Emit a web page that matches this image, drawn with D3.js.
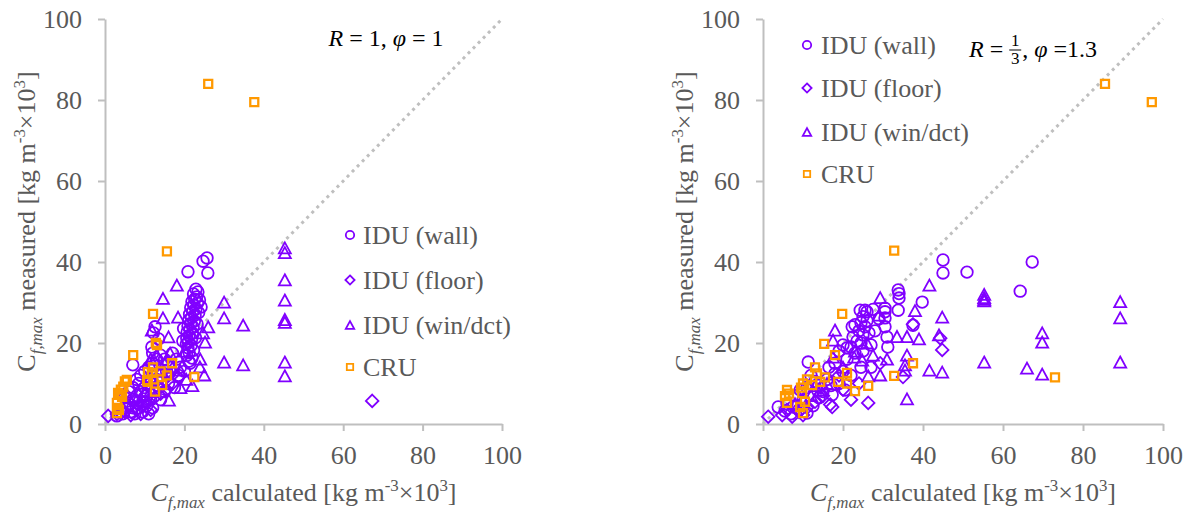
<!DOCTYPE html>
<html>
<head>
<meta charset="utf-8">
<script src="https://cdn.jsdelivr.net/npm/d3@7"></script>
<style>
  body { margin: 0; background: #fff; }
  svg { display: block; }
  text { font-family: "Liberation Serif", "Times New Roman", serif; }
</style>
</head>
<body>
<svg id="chart" width="1190" height="512"></svg>
<script>
// ---- data: [calculated, measured] pairs, kg m^-3 x 10^3 ----
const axisTicks = [0, 20, 40, 60, 80, 100];
const seriesNames = ["IDU (wall)", "IDU (floor)", "IDU (win/dct)", "CRU"];

// panel 1: R = 1, phi = 1
const wallLeft = [
  [25.7,41],[24.7,40.2],[25.9,37.3],[20.9,37.6],
  [22.9,33.3],[23.4,32.6],[22.3,32.1],[23.1,31.4],[22.6,30.8],[21.9,30.2],[23.3,29.9],[22.4,29.3],
  [21.6,28.7],[22.9,28.4],[22.1,27.8],[21.3,27.1],[22.7,26.9],[21.8,26.3],[21.1,25.7],[22.5,25.4],
  [21.6,24.8],[20.9,24.2],[22.2,23.9],[21.4,23.3],[20.7,22.7],[22,22.4],[21.2,21.8],[20.6,21.2],
  [21.8,20.9],[21,20.3],[20.5,19.7],[21.7,19.4],[20.9,18.8],[22.3,18.2],[21.2,17.6],[20.6,16.9],
  [21.9,16.3],[21.1,15.5],[23.8,30.6],[24.2,28.9],[23.6,27.5],[23.2,24.7],[22.8,21.3],[19.8,23.6],
  [19.6,20.5],
  [12.6,24],[12.2,22.5],[11.8,19],[13.5,21],[12,17.5],[7,14.6],[8,11],[9,12],[10,13],[11,14],
  [12,15],[13,16],[14,17],[15,16],[16,15],[17,17.5],[18,16],[19,14],[21.4,15],[20,13],[18.5,12],
  [17,12.5],[15.5,13],[14,12],[13,11],[11.5,10],[10,9],[9,8],[8,7],[7,6],[6,5],[5,4],[4,3],
  [6.5,3],[7.5,2.5],[8.5,4],[9.5,5.5],[10.5,7],[11.5,6],[12.5,8],[13.5,9],[6,8],[5,6.5],[7,9],
  [8.5,10],[9.5,3],[10.5,4.5],[16,10],[17.5,9],[15,8],[14,6],[12,4],[3,2],[4.5,2.5],[7,4],[11,2.5]
];
const floorLeft = [
  [0.8,2],[67.3,5.7],[3,2.5],[5,3],[6.5,2.2],[8,3.5],[9.5,4.5],[11,5.5],[12.5,6.5],[14,7.5],
  [15.5,8.5],[17,10],[18.5,11.5],[16,12],[13,9.5],[10,7],[7.5,5.5],[6,4.5],[9,2.5],[11.5,3.5]
];
const winLeft = [
  [45.3,43.5],[45.3,42.3],[45.3,35.6],[45.3,30.6],[45.3,25.8],[45.3,25.1],[45.3,15.3],[45.3,11.9],
  [30,30.1],[30,26.2],[34.8,24.4],[30,15.3],[34.8,14.6],[18.1,34.3],[14.6,31],[14.6,26.2],
  [18.4,26.4],[24.7,22.5],[16,21.5],[25.2,20.2],[11.8,23.2],[23.9,14.1],[25,12.1],[16.1,5.9],
  [16.4,17.5],[18.9,13.3],[20,18],[17,14],[14,13],[12,11],[10,8],[8,6],[20.5,11],[22,9.5],
  [19,9],[13,17],[11.5,16],[15,15],[24,16],[26,24]
];
const cruLeft = [
  [26,84],[37.6,79.5],[15.6,42.6],[12.1,27.2],[7.1,17],[12.8,20],[16.9,15],[22.5,11.6],
  [12.1,14],[15.6,12],[14.4,9.6],[12.6,8],[10.8,12.8],[10.6,10.8],[5.5,10.9],[4.6,9.2],
  [3.3,7.7],[3,5.2],[3,2.7],[4.3,6.7],[5,10.5],[3.8,7.2],[3.2,4],[11.8,12.6],[13.1,19.5],
  [10.8,10.4],[12.2,11],[14,13],[4,8.5],[3.5,3.5]
];

// panel 2: R = 1/3, phi = 1.3
const wallRight = [
  [67.3,40],[64.3,32.8],[51,37.5],[45,40.5],[45,37.3],[39.8,30.1],[33.8,33.1],[34,32.2],[34,31.1],
  [33.8,28.1],[30.5,28.6],[30.5,27.7],[30.5,26.2],[30.5,24],[31,21.5],[31.2,19],[37.5,24.4],
  [26,27.7],[25.5,28.1],[24.3,28.1],[25,26.5],[26,25.5],[24.5,25],[25.5,24],[23,24.5],[22.3,24],
  [24,23],[25,22],[26.5,22.5],[22.5,21.5],[23.5,20.5],[24.5,20],[21,18.8],[20,19.5],[22,19],
  [19,18],[23,17.5],[25,18],[27,19.5],[28,23],[29,26],[27.5,28.3],[20.5,8.4],[17.3,7.2],[15,8],
  [11.3,15.3],[9.3,8.4],[7.5,4.2],[11,2.7],[3.8,4.2],[12,12],[13,10.5],[14,9.5],[16,11],
  [18,12.5],[20,13],[19,10],[10,6],[8,7],[6,5],[9,3.5],[12.5,4.5],[14,6.5],[16.5,14],[22,12],
  [24.5,14],[21,16],[18,15],[11,9],[7,2.5],[5.5,3.2],[27,14],[17,9.5]
];
const floorRight = [
  [1.3,1.8],[4.8,2.2],[7.3,1.8],[26.3,5.2],[17.3,4.2],[16.8,4.8],[29.3,15],[35,11.6],[44.3,21.2],
  [44.8,18.3],[37.5,24.6],[9,3],[11,4],[13,5.5],[15,7],[20,8.5],[24,10],[6,3.5],[10,2.2],[22,6],
  [14.5,9],[19,12]
];
const winRight = [
  [89.3,30.2],[89.3,26.2],[89.3,15.3],[69.8,22.5],[69.8,20.2],[69.8,12.3],[66,13.8],[55.3,15.3],
  [55.3,30.4],[55.3,31.2],[55.3,32],[55.3,30.8],[44.8,26.4],[44.8,12.8],[41.6,34.3],[44,22],
  [41.6,13.3],[36,17],[35.5,13.3],[29.3,31.2],[29,26.9],[33.5,21.6],[36,21.6],[36,6.2],[35.5,14.6],
  [29.3,12.1],[26.3,11.9],[24.8,15.8],[22.8,16.5],[18,23.2],[17.5,20.7],[17.5,16.5],[14.3,8.4],
  [12,7],[10,6],[8,5],[16,10],[20,14],[23,18],[26,20],[27.5,17],[31,16],[39,21],[38,28],[13,9.5]
];
const cruRight = [
  [85.5,84],[97.2,79.5],[32.8,42.8],[19.8,27.2],[15.3,19.8],[18,17],[13,14],[32.8,11.9],[37.5,15],
  [26.3,9.4],[23,8.1],[21,12.6],[18.8,10.4],[14.3,10.4],[12.3,9.6],[10,10],[6,8.4],[5.5,6.9],
  [6,5.2],[9.3,4.2],[10,2.7],[9.8,7.6],[73,11.5],[13.5,12.5],[11,11],[21,10],[15.5,11.5],
  [6.5,7.5],[9.5,9],[10.5,5.5]
];

// ---- layout ----
const PURPLE = "#8000ff", ORANGE = "#ff9900", GRID = "#bfbfbf", LABEL = "#595959";
const FONT = 26;
const yRange = [424, 19];

const panels = [
  { xRange: [105, 502], series: [wallLeft, floorLeft, winLeft, cruLeft],
    legend: { mx: 350, tx: 363, ys: [235, 280, 325, 367] }, titleX: 35 },
  { xRange: [763, 1163], series: [wallRight, floorRight, winRight, cruRight],
    legend: { mx: 807, tx: 821, ys: [45, 88, 132, 174] }, titleX: 693 }
];

// marker shapes, centred on the origin
const shapes = [
  s => `M${s},0A${s},${s} 0 1,1 ${-s},0A${s},${s} 0 1,1 ${s},0Z`,
  s => `M0,${-s}L${s},0L0,${s}L${-s},0Z`,
  s => `M0,${-s * 0.92}L${s},${s * 0.92}L${-s},${s * 0.92}Z`,
  s => `M${-s},${-s}H${s}V${s}H${-s}Z`
];
const markerSize = [5.8, 6.3, 6, 4];
const legendSize = [4.2, 4.6, 4.2, 3.2];
const colors = [PURPLE, PURPLE, PURPLE, ORANGE];
const strokeW = [1.8, 1.8, 1.8, 2.3];

const svg = d3.select("#chart");

// writes a run of text pieces, each optionally italic / subscript / superscript
function richText(sel, parts, size) {
  let shift = 0;
  parts.forEach(p => {
    const t = sel.append("tspan").text(p.t);
    let target = 0, fs = size;
    if (p.sub) { target = size * 0.25; fs = size * 0.65; }
    if (p.sup) { target = -size * 0.38; fs = size * 0.65; }
    t.attr("dy", target - shift).attr("font-size", fs);
    if (p.italic) t.attr("font-style", "italic");
    shift = target;
  });
}

panels.forEach(panel => {
  const x = d3.scaleLinear().domain([0, 100]).range(panel.xRange);
  const y = d3.scaleLinear().domain([0, 100]).range(yRange);
  const g = svg.append("g");

  // axes
  const xAxis = g.append("g").attr("transform", `translate(0,${yRange[0]})`)
    .call(d3.axisBottom(x).tickValues(axisTicks).tickSize(7).tickSizeOuter(0).tickPadding(15));
  const yAxis = g.append("g").attr("transform", `translate(${panel.xRange[0]},0)`)
    .call(d3.axisLeft(y).tickValues(axisTicks).tickSize(7).tickSizeOuter(0).tickPadding(16));
  [xAxis, yAxis].forEach(a => {
    a.select(".domain").attr("stroke", GRID).attr("stroke-width", 2);
    a.selectAll(".tick line").attr("stroke", GRID).attr("stroke-width", 2);
    a.selectAll(".tick text").attr("fill", LABEL).attr("font-size", FONT)
      .attr("font-family", "Liberation Serif, Times New Roman, serif");
  });

  // 1:1 reference line
  g.append("line")
    .attr("x1", x(0)).attr("y1", y(0)).attr("x2", x(100)).attr("y2", y(100))
    .attr("stroke", GRID).attr("stroke-width", 3).attr("stroke-dasharray", "3 4.2");

  // markers
  panel.series.forEach((pts, i) => {
    g.append("g").selectAll("path").data(pts).join("path")
      .attr("transform", d => `translate(${x(d[0])},${y(d[1])})`)
      .attr("d", shapes[i](markerSize[i]))
      .attr("fill", "none").attr("stroke", colors[i]).attr("stroke-width", strokeW[i]);
  });

  // legend
  seriesNames.forEach((name, i) => {
    const ly = panel.legend.ys[i];
    g.append("path").attr("transform", `translate(${panel.legend.mx},${ly})`)
      .attr("d", shapes[i](legendSize[i]))
      .attr("fill", "none").attr("stroke", colors[i]).attr("stroke-width", 1.8);
    g.append("text").attr("x", panel.legend.tx).attr("y", ly).attr("dy", "0.34em")
      .attr("fill", LABEL).attr("font-size", FONT).text(name);
  });

  // axis titles
  const xt = g.append("text").attr("x", (panel.xRange[0] + panel.xRange[1]) / 2).attr("y", 501)
    .attr("text-anchor", "middle").attr("fill", LABEL).attr("font-size", FONT);
  richText(xt, [
    { t: "C", italic: true }, { t: "f,max", italic: true, sub: true },
    { t: " calculated [kg m" }, { t: "-3", sup: true }, { t: "×10" }, { t: "3", sup: true }, { t: "]" }
  ], FONT);

  const yt = g.append("text")
    .attr("transform", `translate(${panel.titleX},${(yRange[0] + yRange[1]) / 2}) rotate(-90)`)
    .attr("text-anchor", "middle").attr("fill", LABEL).attr("font-size", FONT);
  richText(yt, [
    { t: "C" }, { t: "f,max", italic: true, sub: true },
    { t: " measured [kg m" }, { t: "-3", sup: true }, { t: "×10" }, { t: "3", sup: true }, { t: "]" }
  ], FONT);
});

// parameter notes
const note1 = svg.append("text").attr("x", 386).attr("y", 46).attr("text-anchor", "middle")
  .attr("font-size", 24).attr("fill", "#000");
richText(note1, [{ t: "R", italic: true }, { t: " = 1, " }, { t: "φ", italic: true }, { t: " = 1" }], 24);

// second note with a stacked 1/3 fraction
const n2 = svg.append("g").attr("font-size", 24).attr("fill", "#000");
let cx = 969;
const base2 = 57;
const a = n2.append("text").attr("x", cx).attr("y", base2);
richText(a, [{ t: "R", italic: true }, { t: " =" }], 24);
cx += a.node().getComputedTextLength() + 6;
const fw = 12;
n2.append("text").attr("x", cx + fw / 2).attr("y", base2 - 11).attr("text-anchor", "middle")
  .attr("font-size", 17).text("1");
n2.append("line").attr("x1", cx).attr("x2", cx + fw).attr("y1", base2 - 7).attr("y2", base2 - 7)
  .attr("stroke", "#000").attr("stroke-width", 1);
n2.append("text").attr("x", cx + fw / 2).attr("y", base2 + 7).attr("text-anchor", "middle")
  .attr("font-size", 17).text("3");
cx += fw + 1;
const b = n2.append("text").attr("x", cx).attr("y", base2);
richText(b, [{ t: ", " }, { t: "φ", italic: true }, { t: " =1.3" }], 24);
</script>
</body>
</html>
